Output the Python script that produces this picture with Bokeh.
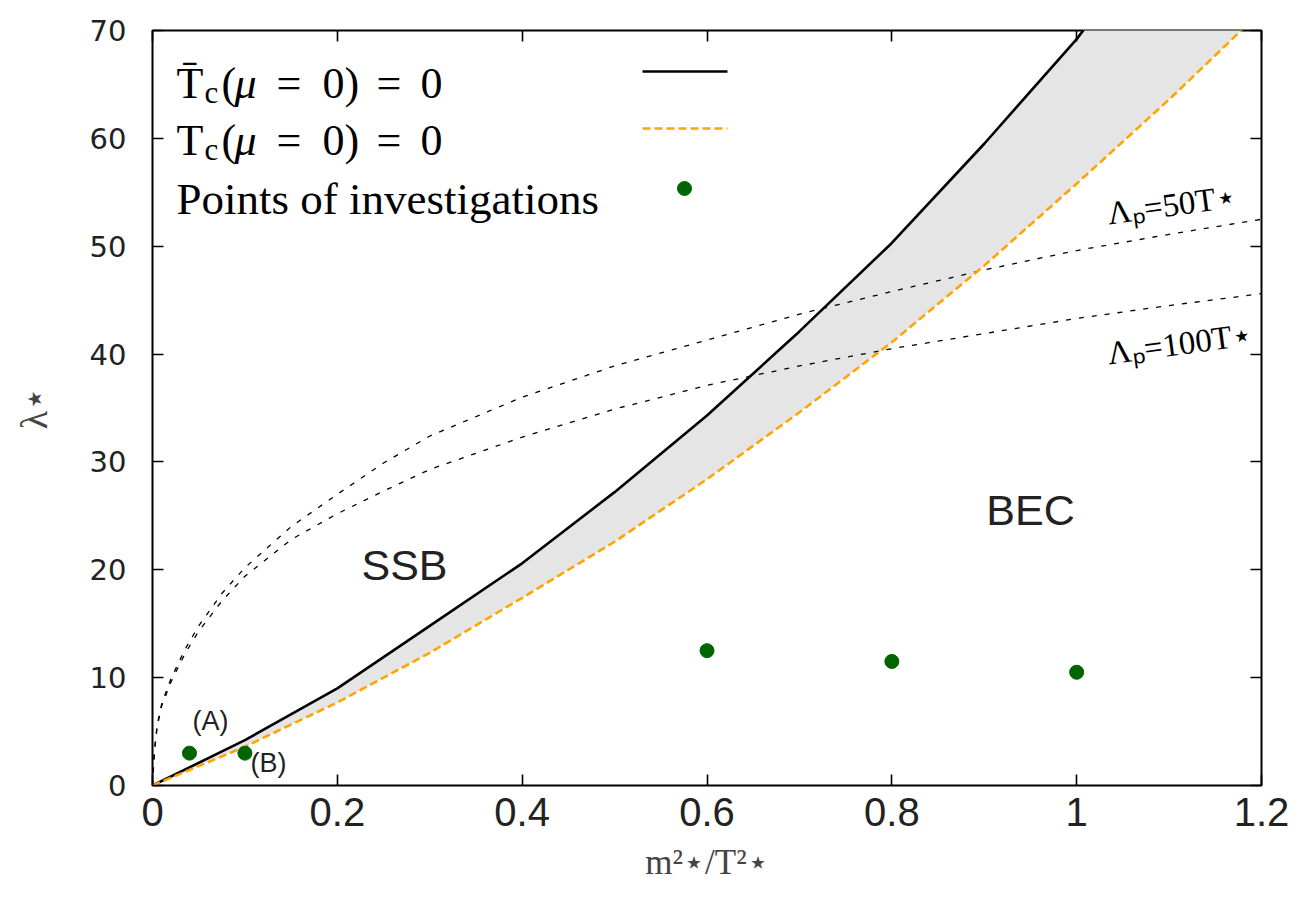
from bokeh.plotting import figure
from bokeh.models import Range1d, LinearAxis, FixedTicker, Label
from bokeh.embed import file_html
from bokeh.resources import INLINE

# ---------------- data ----------------
m2 = [0.0, 0.1, 0.2, 0.3, 0.4, 0.5, 0.6, 0.7, 0.8, 0.9, 1.0, 1.1, 1.2]
tc_bar = [0.0, 4.2, 9.0, 14.8, 20.6, 27.2, 34.3, 42.1, 50.3, 59.5, 69.2, 80.5, 92.0]
tc = [0.0, 3.6, 7.7, 12.3, 17.4, 22.6, 28.4, 34.6, 41.1, 48.2, 55.8, 63.6, 71.8]

lam_x = [0.0, 0.002, 0.005, 0.01, 0.02, 0.035, 0.05, 0.075, 0.1, 0.15, 0.2, 0.25,
         0.3, 0.4, 0.5, 0.6, 0.7, 0.8, 0.9, 1.0, 1.1, 1.2]
lam_50 = [0.0, 3.2, 5.6, 7.6, 9.9, 12.6, 14.8, 17.8, 20.2, 24.0, 27.0, 29.9,
          32.4, 36.0, 38.9, 41.3, 43.7, 45.8, 47.8, 49.6, 51.1, 52.5]
lam_100 = [0.0, 3.0, 5.4, 7.4, 9.6, 12.2, 14.3, 17.1, 19.4, 22.8, 25.2, 27.3,
           29.3, 32.3, 34.9, 37.1, 38.9, 40.5, 41.9, 43.3, 44.5, 45.6]

pts_x = [0.04, 0.1, 0.6, 0.8, 1.0]
pts_y = [3.0, 3.0, 12.5, 11.5, 10.5]

x_ticks = [0, 0.2, 0.4, 0.6, 0.8, 1.0, 1.2]
x_tick_labels = ["0", "0.2", "0.4", "0.6", "0.8", "1", "1.2"]
y_ticks = [0, 10, 20, 30, 40, 50, 60, 70]

# ---------------- figure ----------------
W, H = 1290, 900
FL, FT, FR, FB = 152, 30, 1261, 785   # frame edges in canvas px
XMIN, XMAX, YMIN, YMAX = 0.0, 1.2, 0.0, 70.0

p = figure(width=W, height=H, output_backend="svg", toolbar_location=None,
           x_range=Range1d(XMIN, XMAX), y_range=Range1d(YMIN, YMAX),
           min_border_left=FL, min_border_top=FT,
           min_border_right=W - FR, min_border_bottom=H - FB)
p.background_fill_color = "white"
p.border_fill_color = "white"
p.outline_line_color = "black"
p.outline_line_width = 2
p.xgrid.visible = False
p.ygrid.visible = False


def px2x(px):
    return XMIN + (px - FL) / (FR - FL) * (XMAX - XMIN)


def px2y(py):
    return YMAX - (py - FT) / (FB - FT) * (YMAX - YMIN)


def style_axis(ax, show_labels):
    ax.axis_line_color = None
    ax.major_tick_in = 11
    ax.major_tick_out = 0
    ax.minor_tick_line_color = None
    ax.major_tick_line_color = "black"
    ax.major_tick_line_width = 1.6
    if not show_labels:
        ax.major_label_text_font_size = "0px"
        ax.major_label_text_alpha = 0


xa = p.xaxis[0]
ya = p.yaxis[0]
xa.ticker = FixedTicker(ticks=x_ticks)
xa.major_label_overrides = {t: l for t, l in zip(x_ticks, x_tick_labels)}
ya.ticker = FixedTicker(ticks=y_ticks)
style_axis(xa, True)
style_axis(ya, True)
xa.major_label_text_font = "Liberation Sans"
xa.major_label_text_font_size = "40px"
xa.major_label_text_color = "#222222"
xa.major_label_standoff = 12
ya.major_label_text_font = "DejaVu Sans"
ya.major_label_text_font_size = "29px"
ya.major_label_text_color = "#222222"
ya.major_label_standoff = 26

xa.axis_label = "m²⋆/T²⋆"
xa.axis_label_text_font = "Liberation Serif"
xa.axis_label_text_font_style = "normal"
xa.axis_label_text_font_size = "35px"
xa.axis_label_standoff = 14
ya.axis_label = "λ⋆"
ya.axis_label_text_font = "Liberation Serif"
ya.axis_label_text_font_style = "normal"
ya.axis_label_text_font_size = "38px"
ya.axis_label_standoff = 32

top = LinearAxis(ticker=FixedTicker(ticks=x_ticks))
style_axis(top, False)
p.add_layout(top, "above")
right = LinearAxis(ticker=FixedTicker(ticks=y_ticks))
style_axis(right, False)
p.add_layout(right, "right")

# ---------------- marks ----------------
p.varea(x=m2, y1=tc, y2=tc_bar, fill_color="#e5e5e5", fill_alpha=1.0)
p.line(lam_x, lam_50, line_color="black", line_width=1.3, line_dash="5 8")
p.line(lam_x, lam_100, line_color="black", line_width=1.3, line_dash="5 8")
p.line(m2, tc_bar, line_color="black", line_width=2.6)
p.line(m2, tc, line_color="#ffa500", line_width=2.6, line_dash="8 4")
p.scatter(pts_x, pts_y, size=14, marker="circle", fill_color="#006400",
          line_color="#006400")

# ---------------- text annotations ----------------
sans = "Liberation Sans"
serif = "Liberation Serif"


def label(x, y, text, font, size, align="left", baseline="alphabetic", angle=0.0,
          color="#222222", style="normal"):
    p.add_layout(Label(x=x, y=y, text=text, text_font=font,
                       text_font_size=f"{size}px", text_align=align,
                       text_baseline=baseline, angle=angle, text_color=color,
                       text_font_style=style))


label(px2x(404), px2y(564), "SSB", sans, 43, align="center", baseline="middle")
label(px2x(1030), px2y(509), "BEC", sans, 43, align="center", baseline="middle")
label(px2x(210), px2y(720), "(A)", sans, 27, align="center", baseline="middle")
label(px2x(268), px2y(762), "(B)", sans, 27, align="center", baseline="middle")

label(px2x(1107), px2y(213), "Λₚ=50T⋆", serif, 33, angle=0.134, color="black")
label(px2x(1107), px2y(353), "Λₚ=100T⋆", serif, 33, angle=0.134, color="black")

# legend (label text on the left, sample on the right)
rows = [83, 140, 198]
for i, base in enumerate(rows[:2]):
    tname = "T\u0304" if i == 0 else "T"
    label(px2x(176), px2y(base), tname, serif, 44, color="black")
    label(px2x(204), px2y(base + 9), "c", serif, 31, color="black")
    label(px2x(221), px2y(base), "(", serif, 44, color="black")
    label(px2x(234), px2y(base), "μ", serif, 44, color="black", style="italic")
    label(px2x(276), px2y(base), "=", serif, 44, color="black")
    label(px2x(322), px2y(base), "0)", serif, 44, color="black")
    label(px2x(376), px2y(base), "=", serif, 44, color="black")
    label(px2x(420), px2y(base), "0", serif, 44, color="black")
label(px2x(176), px2y(rows[2]), "Points of investigations", serif, 45, color="black")

p.segment(x0=[px2x(642)], y0=[px2y(71)], x1=[px2x(727)], y1=[px2y(71)],
          line_color="black", line_width=2.6)
p.segment(x0=[px2x(642)], y0=[px2y(128)], x1=[px2x(727)], y1=[px2y(128)],
          line_color="#ffa500", line_width=2.6, line_dash="8 4")
p.scatter([px2x(684)], [px2y(188)], size=14, marker="circle",
          fill_color="#006400", line_color="#006400")

open("out.html", "w").write(file_html(p, INLINE))
